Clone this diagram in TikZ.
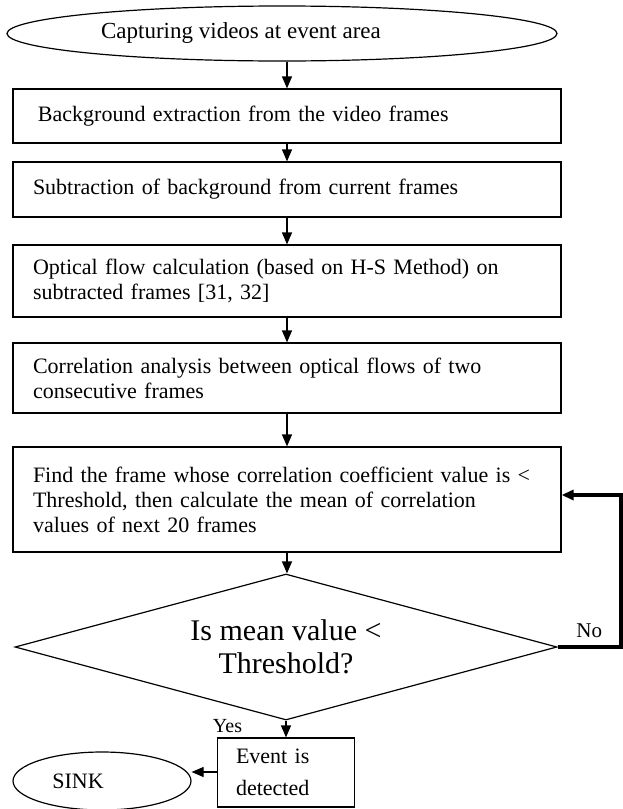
\documentclass[tikz,border=0pt]{standalone}
\usepackage{fontspec}
\setmainfont{Liberation Serif}
\usetikzlibrary{arrows.meta,positioning,calc,shapes.geometric}

\tikzset{
  flowline/.style={line width=1.2pt},
  procbox/.style={draw, flowline, minimum width=548pt, text width=508pt,
    align=left, inner sep=0pt, font=\fontsize{22}{25}\selectfont},
  termnode/.style={draw, flowline, ellipse, inner sep=0pt,
    font=\fontsize{22}{25}\selectfont},
}

\begin{document}
\begin{tikzpicture}[x=1pt, y=-1pt, >={Triangle[length=12pt, width=10pt]}]
    \useasboundingbox (0,0) rectangle (623,809);
    % --- start ---
    \node[termnode, minimum width=550pt, minimum height=55pt,
      font=\fontsize{23}{25}\selectfont] (capture) at (282,33.5)
      {\hspace*{-82pt}Capturing videos at event area};
    % --- processing steps ---
    \node[procbox, minimum height=54pt] (bgext) at (287,116)
      {\hspace*{5pt}Background extraction from the video frames};
    \node[procbox, minimum height=55pt] (bgsub) at (287,189.5)
      {Subtraction of background from current frames};
    \node[procbox, minimum height=72pt] (optflow) at (287,281)
      {Optical flow calculation (based on H-S Method) on\\ subtracted frames [31, 32]};
    \node[procbox, minimum height=70pt] (corr) at (287,378)
      {Correlation analysis between optical flows of two\\ consecutive frames};
    \node[procbox, minimum height=105pt] (findfr) at (287,499.5)
      {Find the frame whose correlation coefficient value is <\\
       Threshold, then calculate the mean of correlation\\
       values of next 20 frames};
    % --- decision ---
    \node[draw, flowline, diamond, shape aspect=3.7, minimum width=542pt,
      minimum height=146pt, inner sep=0pt, align=center,
      font=\fontsize{30}{33}\selectfont] (test) at (286,647)
      {Is mean value <\\ Threshold?};
    % --- end ---
    \node[draw, flowline, minimum width=137pt, minimum height=69pt, text width=100pt,
      align=left, inner sep=0pt, font=\fontsize{22}{32}\selectfont] (event) at (286,772.5)
      {Event is\\ detected};
    \node[termnode, minimum width=178pt, minimum height=58pt] (sink) at (102,781)
      {\hspace*{-48pt}SINK};
    % --- connectors ---
    \draw[->, flowline] (capture.south -| bgext) -- (bgext.north);
    \draw[->, flowline] (bgext) -- (bgsub);
    \draw[->, flowline] (bgsub) -- (optflow);
    \draw[->, flowline] (optflow) -- (corr);
    \draw[->, flowline] (corr) -- (findfr);
    \draw[->, flowline] (findfr.south) -- (findfr.south |- test.north);
    \draw[->, flowline] (test.south) -- (event.north)
      node[pos=0.3, left=40pt, font=\fontsize{20}{24}\selectfont] {Yes};
    \draw[->, flowline] (event.west |- 0,772) -- (sink.east |- 0,772);
    % --- feedback loop ---
    \coordinate (loop) at (621,647);
    \draw[->, line width=3.6pt] (test.east) -- (loop)
      node[midway, above=4pt, font=\fontsize{21}{24}\selectfont] {No}
      |- ($(findfr.east)+(0,-4.5)$);
\end{tikzpicture}
\end{document}
